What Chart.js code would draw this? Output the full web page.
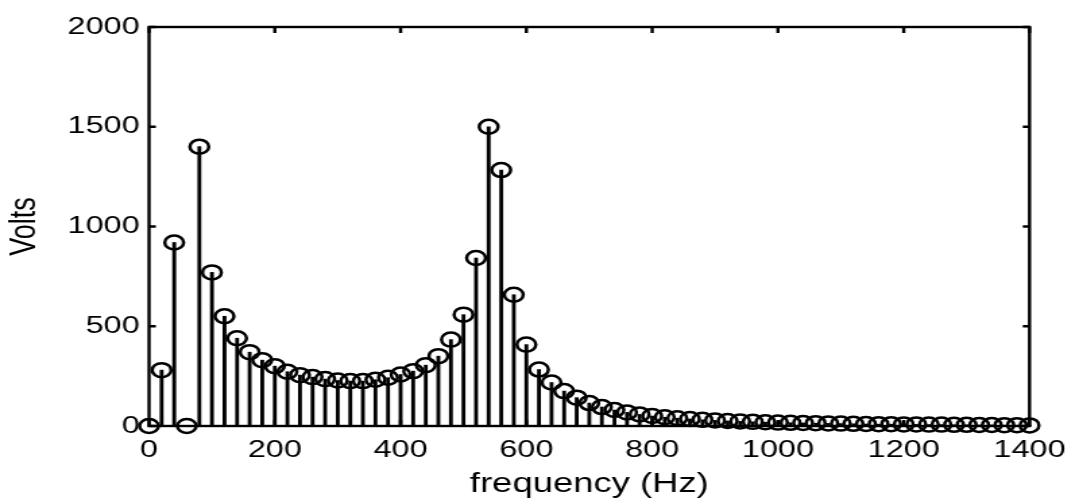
<!DOCTYPE html>
<html>
<head>
<meta charset="utf-8">
<script src="https://cdn.jsdelivr.net/npm/chart.js@4.4.1/dist/chart.umd.min.js"></script>
<style>
  body { margin: 0; background: white; overflow: hidden; }
  /* the plot is drawn narrow and widened, so text and markers come out stretched */
  #wrap { width: 800px; height: 502px; transform: scaleX(1.34875); transform-origin: 0 0; }
</style>
</head>
<body>
<div id="wrap"><canvas id="myChart" width="800" height="502"></canvas></div>
<script>
// frequency bins of the spectrum (Hz)
var freqs = [
    0, 20, 40, 60, 80, 100, 120, 140, 160, 180,
    200, 220, 240, 260, 280, 300, 320, 340, 360, 380,
    400, 420, 440, 460, 480, 500, 520, 540, 560, 580,
    600, 620, 640, 660, 680, 700, 720, 740, 760, 780,
    800, 820, 840, 860, 880, 900, 920, 940, 960, 980,
    1000, 1020, 1040, 1060, 1080, 1100, 1120, 1140, 1160, 1180,
    1200, 1220, 1240, 1260, 1280, 1300, 1320, 1340, 1360, 1380,
    1400
];

// amplitude at each bin (Volts)
var volts = [
    0, 280, 920, 0, 1400, 770, 550, 440, 370, 330,
    300, 272, 255, 245, 235, 228, 225, 225, 232, 242,
    258, 275, 305, 350, 433, 558, 842, 1500, 1283, 658,
    408, 283, 218, 175, 142, 115, 95, 80, 68, 58,
    50, 44, 39, 35, 31, 28, 25, 23, 21, 19,
    17, 16, 15, 14, 13, 12, 11, 10, 9, 9,
    8, 8, 7, 7, 6, 6, 5, 5, 4, 4,
    3
];

var xTicks = [0, 200, 400, 600, 800, 1000, 1200, 1400];
var yTicks = [0, 500, 1000, 1500, 2000];

var points = [];
for (var i = 0; i < freqs.length; i++) {
    points.push({ x: freqs[i], y: volts[i] });
}

var tickFont = { family: "'Liberation Sans', Arial, sans-serif", size: 24 };
var titleFont = { family: "'Liberation Sans', Arial, sans-serif", size: 27 };

// plain numbers on the axes, no thousands separator
function plainLabel(value) {
    return String(value);
}

// box around the plot with short inward ticks on all four sides
var framePlugin = {
    id: 'frame',
    beforeDatasetsDraw: function(chart) {
        var ctx = chart.ctx;
        var a = chart.chartArea;
        var xs = chart.scales.x;
        var ys = chart.scales.y;
        ctx.save();
        ctx.strokeStyle = 'black';
        ctx.lineWidth = 2.4;
        ctx.strokeRect(a.left, a.top, a.right - a.left, a.bottom - a.top);
        ctx.beginPath();
        yTicks.forEach(function(v) {
            var y = ys.getPixelForValue(v);
            ctx.moveTo(a.left, y);
            ctx.lineTo(a.left + 5, y);
            ctx.moveTo(a.right, y);
            ctx.lineTo(a.right - 5, y);
        });
        xTicks.forEach(function(v) {
            var x = xs.getPixelForValue(v);
            ctx.moveTo(x, a.top);
            ctx.lineTo(x, a.top + 6);
            ctx.moveTo(x, a.bottom);
            ctx.lineTo(x, a.bottom - 6);
        });
        ctx.stroke();
        ctx.restore();
    }
};

new Chart(document.getElementById('myChart'), {
    type: 'bar',
    data: {
        datasets: [
            {
                // the stems
                type: 'bar',
                data: points,
                backgroundColor: 'black',
                barThickness: 2.2,
                grouped: false,
                clip: false,
                order: 2
            },
            {
                // open circles on top of each stem
                type: 'line',
                data: points,
                showLine: false,
                pointStyle: 'circle',
                pointRadius: 7,
                pointBorderWidth: 2.5,
                pointBorderColor: 'black',
                pointBackgroundColor: 'rgba(0,0,0,0)',
                clip: false,
                order: 1
            }
        ]
    },
    plugins: [framePlugin],
    options: {
        responsive: false,
        animation: false,
        events: [],
        layout: { padding: { left: 0, right: 29, top: 27, bottom: 0 } },
        plugins: {
            legend: { display: false },
            tooltip: { enabled: false }
        },
        scales: {
            x: {
                type: 'linear',
                min: 0,
                max: 1400,
                offset: false,
                grid: { display: false, drawTicks: false },
                border: { display: false },
                afterBuildTicks: function(scale) {
                    scale.ticks = xTicks.map(function(v) { return { value: v }; });
                },
                afterFit: function(scale) { scale.height = 76; },
                ticks: { color: 'black', font: tickFont, padding: 10, maxRotation: 0, callback: plainLabel },
                title: {
                    display: true,
                    text: 'frequency (Hz)',
                    color: 'black',
                    font: titleFont,
                    padding: { top: 0, bottom: 1 }
                }
            },
            y: {
                min: 0,
                max: 2000,
                grid: { display: false, drawTicks: false },
                border: { display: false },
                afterBuildTicks: function(scale) {
                    scale.ticks = yTicks.map(function(v) { return { value: v }; });
                },
                afterFit: function(scale) { scale.width = 110.5; },
                ticks: { color: 'black', font: tickFont, padding: 7, callback: plainLabel },
                title: {
                    display: true,
                    text: 'Volts',
                    color: 'black',
                    font: titleFont,
                    padding: { top: 2, bottom: 0 }
                }
            }
        }
    }
});
</script>
</body>
</html>
